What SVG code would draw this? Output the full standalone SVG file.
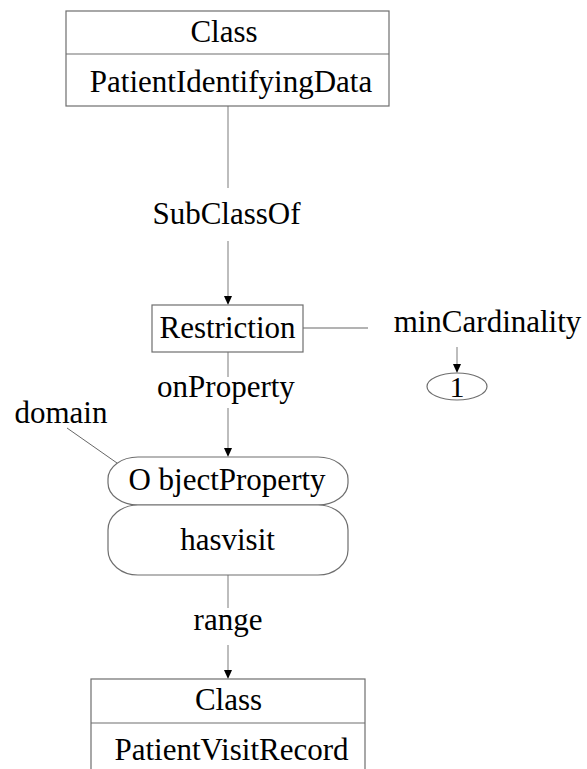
<svg xmlns="http://www.w3.org/2000/svg" width="587" height="769" viewBox="0 0 587 769">
<style>
text{font-family:"Liberation Serif","Times New Roman",serif;font-size:31px;fill:#000;text-anchor:middle}
.box{fill:#fff;stroke:#6e6e6e;stroke-width:1.2}
.conn{stroke:#9a9a9a;stroke-width:1.3;fill:none}
.thin{stroke:#555;stroke-width:0.9;fill:none}
</style>
<defs>
<marker id="arr" viewBox="0 0 8 10" refX="4" refY="10" markerWidth="8" markerHeight="10" markerUnits="userSpaceOnUse" orient="auto">
<path d="M0,0 L8,0 L4,10 Z" fill="#000" transform="rotate(-90 4 5)"/>
</marker>
</defs>
<rect width="587" height="769" fill="#fff"/>
<g id="connectors">
<line class="conn" x1="228" y1="106" x2="228" y2="188"/>
<path class="conn" d="M228,241 V296"/>
<path d="M224,296 L232,296 L228,305 Z" fill="#000"/>
<line class="conn" x1="303" y1="328" x2="368" y2="328"/>
<path class="conn" d="M457,347 V364"/>
<path d="M453,364 L461,364 L457,373 Z" fill="#000"/>
<line class="conn" x1="228" y1="352" x2="228" y2="377"/>
<path class="conn" d="M228,408 V448"/>
<path d="M224,448 L232,448 L228,457 Z" fill="#000"/>
<line class="thin" x1="67" y1="428" x2="117" y2="463"/>
<line class="conn" x1="228" y1="575" x2="228" y2="608"/>
<path class="conn" d="M228,645 V670"/>
<path d="M224,670 L232,670 L228,679 Z" fill="#000"/>
<text x="226.5" y="224">SubClassOf</text>
<text x="226" y="397">onProperty</text>
<text x="61" y="423">domain</text>
<text x="228" y="630">range</text>
<text x="487.5" y="332">minCardinality</text>
</g>
<g id="class-patientidentifyingdata">
<rect class="box" x="66" y="11" width="323" height="95"/>
<line class="box" x1="66" y1="54" x2="389" y2="54"/>
<text x="224" y="42">Class</text>
<text x="231" y="92">PatientIdentifyingData</text>
</g>
<g id="restriction">
<rect class="box" x="152" y="305" width="151" height="47"/>
<text x="227.5" y="338">Restriction</text>
</g>
<g id="cardinality-1">
<ellipse class="box" cx="457" cy="386.5" rx="30" ry="13.5"/>
<text x="457" y="397" style="font-size:30px">1</text>
</g>
<g id="objectproperty">
<rect class="box" x="108" y="457" width="240" height="48" rx="30" ry="22"/>
<text x="227" y="490">O bjectProperty</text>
</g>
<g id="hasvisit">
<rect class="box" x="108" y="505" width="240" height="70" rx="30" ry="25"/>
<text x="227.5" y="550">hasvisit</text>
</g>
<g id="class-patientvisitrecord">
<rect class="box" x="91" y="679" width="274" height="100"/>
<line class="box" x1="91" y1="723" x2="365" y2="723"/>
<text x="228.5" y="710">Class</text>
<text x="231.5" y="760">PatientVisitRecord</text>
</g>
</svg>
